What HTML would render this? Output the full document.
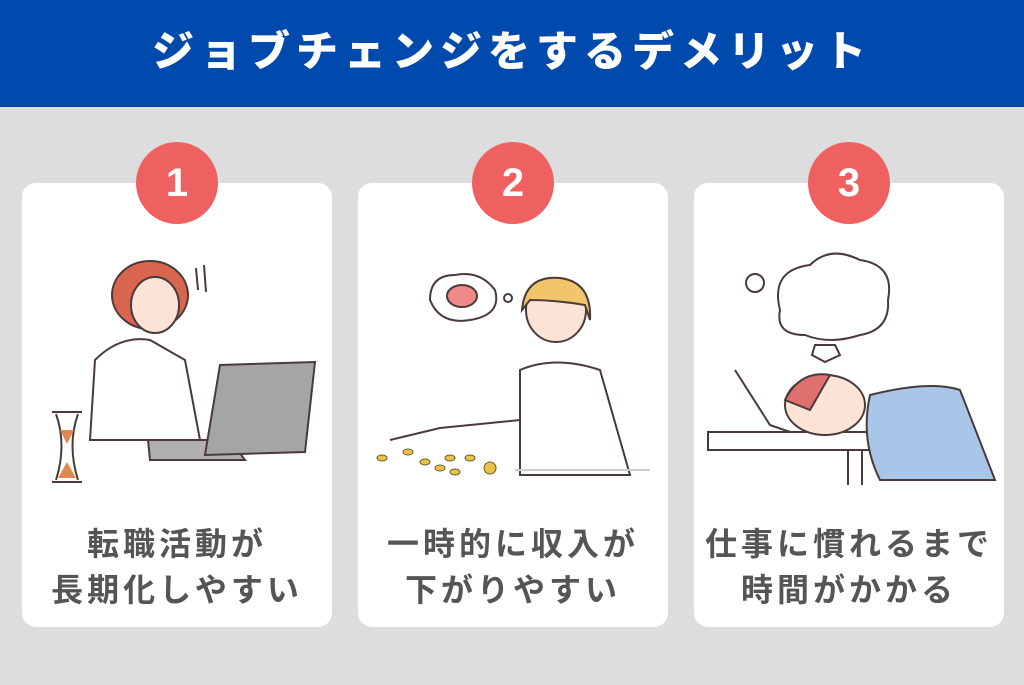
<!DOCTYPE html>
<html><head><meta charset="utf-8"><style>
*{margin:0;padding:0;box-sizing:border-box}
body{width:1024px;height:685px;background:#dddddd;position:relative;overflow:hidden;font-family:"Liberation Sans","Noto Sans CJK JP",sans-serif}
.hd{position:absolute;left:0;top:0;width:1024px;height:107px;background:#004aad;color:#fff;font-weight:900;font-size:42px;letter-spacing:6px;text-align:center;line-height:104px}
.card{position:absolute;top:183px;width:310px;height:444px;background:#fff;border-radius:14px}
.num{position:absolute;top:142px;width:82px;height:82px;border-radius:50%;background:#ef6060;color:#fff;font-weight:700;font-size:40px;text-align:center;line-height:82px}
.tx{position:absolute;top:338px;left:0;width:310px;text-align:center;color:#555;font-weight:700;font-size:32px;letter-spacing:4px;line-height:46px}
svg{position:absolute;left:0;top:0}
</style></head><body>
<div class="hd">ジョブチェンジをするデメリット</div>
<div class="card" style="left:22px"><div class="tx">転職活動が<br>長期化しやすい</div></div>
<div class="card" style="left:358px"><div class="tx">一時的に収入が<br>下がりやすい</div></div>
<div class="card" style="left:694px"><div class="tx">仕事に慣れるまで<br>時間がかかる</div></div>
<div class="num" style="left:136px">1</div>
<div class="num" style="left:472px">2</div>
<div class="num" style="left:808px">3</div>
<svg width="1024" height="685" fill="none" stroke="#4a3a3a" stroke-width="2">
<path d="M90 440 L95 360 Q120 335 150 340 L185 360 L200 440 Z" fill="#fff"/>
<ellipse cx="150" cy="295" rx="38" ry="34" fill="#d9654f"/>
<ellipse cx="155" cy="305" rx="24" ry="28" fill="#fbe3d6"/>
<path d="M148 440 L230 440 L245 460 L150 460 Z" fill="#b0b0b0"/>
<path d="M220 365 L315 362 L305 452 L205 455 Z" fill="#a5a5a5"/>
<path d="M52 412 L82 412 M52 482 L82 482 M56 414 Q67 445 56 480 M78 414 Q67 445 78 480" />
<path d="M60 430 L74 430 L67 444 Z M58 478 L76 478 L67 462 Z" fill="#e2874f" stroke="none"/>
<path d="M196 268 L198 290 M204 265 L206 292"/>
<path d="M520 370 Q555 355 600 370 L630 475 L520 475 Z" fill="#fff"/>
<ellipse cx="556" cy="310" rx="30" ry="32" fill="#fbe3d6"/>
<path d="M522 310 Q525 275 560 278 Q592 282 590 320 L585 305 Q555 300 530 300 Z" fill="#f2c56a"/>
<path d="M390 440 L440 428 L520 420" />
<path d="M430 300 Q430 275 455 275 Q480 270 495 290 Q502 315 470 320 Q440 325 430 300 Z" fill="#fff"/>
<ellipse cx="462" cy="296" rx="15" ry="11" fill="#f08a8a"/>
<circle cx="508" cy="298" r="4"/>
<g fill="#e8c24a" stroke="#6a5a2a" stroke-width="1">
<ellipse cx="382" cy="458" rx="5" ry="3"/><ellipse cx="408" cy="452" rx="5" ry="3"/><ellipse cx="425" cy="462" rx="5" ry="3"/><ellipse cx="440" cy="468" rx="5" ry="3"/><ellipse cx="455" cy="472" rx="5" ry="3"/><ellipse cx="470" cy="458" rx="5" ry="3"/><ellipse cx="490" cy="468" rx="6" ry="6"/><ellipse cx="450" cy="458" rx="5" ry="3"/>
</g>
<path d="M515 470 L650 470" stroke="#ccc"/>
<path d="M780 310 Q770 270 810 265 Q830 245 860 260 Q895 265 888 300 Q890 330 860 335 Q830 345 805 335 Q775 335 780 310 Z" fill="#fff"/>
<circle cx="755" cy="283" r="9" fill="#fff"/>
<path d="M815 345 L835 345 L840 355 L825 362 L812 355 Z"/>
<path d="M708 432 L870 432 L870 450 L708 450 Z" fill="#fff"/>
<path d="M848 450 L848 485 M862 450 L862 485"/>
<path d="M735 370 L770 425 L790 432" />
<path d="M870 395 Q930 380 960 390 L995 480 L880 480 Q860 440 870 395 Z" fill="#a9c6e8"/>
<ellipse cx="825" cy="405" rx="40" ry="30" fill="#fbe3d6"/>
<path d="M785 400 Q800 370 830 375 L810 410 Z" fill="#e07070"/>
</svg>
</body></html>
